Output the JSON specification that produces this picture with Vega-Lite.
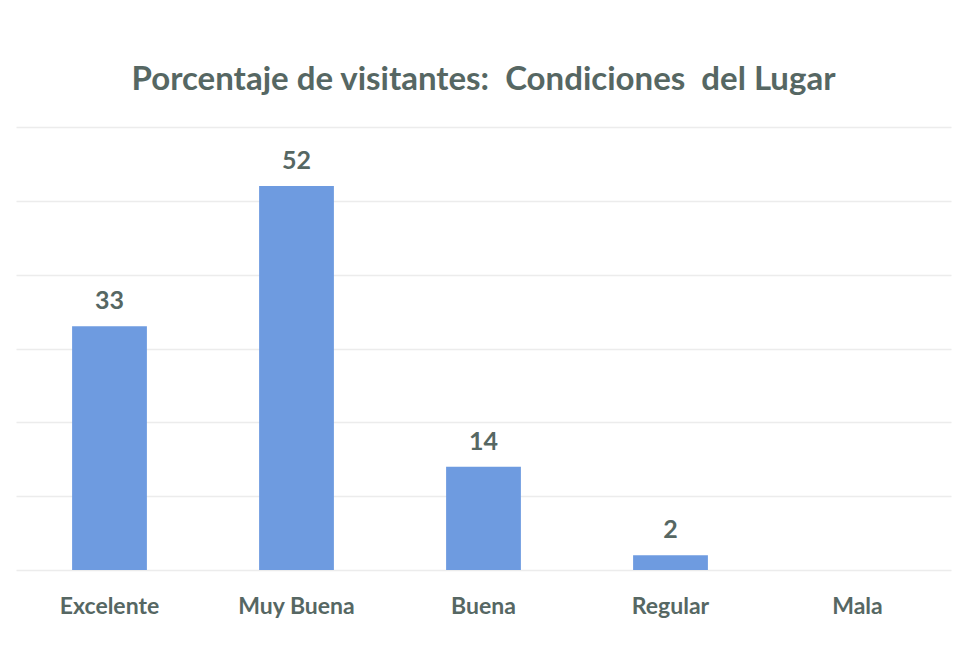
{
  "$schema": "https://vega.github.io/schema/vega-lite/v6.json",
  "width": 935,
  "height": 443,
  "autosize": "none",
  "padding": {"left": 16, "top": 127, "right": 4, "bottom": 96},
  "background": "white",
  "title": {
    "text": "Porcentaje de visitantes:\u00a0 Condiciones\u00a0 del Lugar",
    "font": "Lato",
    "fontSize": 33,
    "fontWeight": "bold",
    "color": "#566763",
    "anchor": "middle",
    "offset": 30
  },
  "data": {
    "values": [
      {"categoria": "Excelente", "porcentaje": 33},
      {"categoria": "Muy Buena", "porcentaje": 52},
      {"categoria": "Buena", "porcentaje": 14},
      {"categoria": "Regular", "porcentaje": 2},
      {"categoria": "Mala", "porcentaje": null}
    ]
  },
  "encoding": {
    "x": {
      "field": "categoria",
      "type": "nominal",
      "sort": null,
      "scale": {"domain": ["Excelente", "Muy Buena", "Buena", "Regular", "Mala"], "paddingInner": 0.6, "paddingOuter": 0.3},
      "axis": {
        "title": null,
        "labelAngle": 0,
        "domain": false,
        "ticks": false,
        "labelPadding": 25,
        "labelFont": "Lato",
        "labelFontSize": 23,
        "labelFontWeight": "bold",
        "labelColor": "#566763"
      }
    },
    "y": {
      "field": "porcentaje",
      "type": "quantitative",
      "scale": {"domain": [0, 60], "nice": false},
      "axis": {
        "title": null,
        "labels": false,
        "ticks": false,
        "domain": false,
        "values": [0, 10, 20, 30, 40, 50, 60],
        "gridColor": "#ececec",
        "gridWidth": 1.5
      }
    }
  },
  "layer": [
    {"mark": {"type": "bar", "color": "#6e9be0"}},
    {
      "mark": {
        "type": "text",
        "baseline": "bottom",
        "dy": -12,
        "font": "Lato",
        "fontSize": 25,
        "fontWeight": "bold",
        "color": "#566763"
      },
      "encoding": {"text": {"field": "porcentaje", "type": "quantitative"}}
    }
  ],
  "config": {"view": {"stroke": null}}
}
